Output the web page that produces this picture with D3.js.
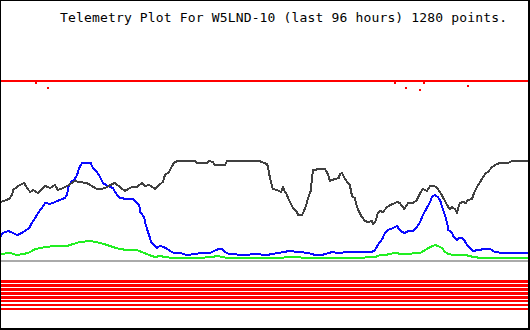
<!DOCTYPE html>
<html>
<head>
<meta charset="utf-8">
<script src="https://cdn.jsdelivr.net/npm/d3@7/dist/d3.min.js"></script>
<style>
  html, body { margin: 0; padding: 0; background: #fff; }
  svg { display: block; }
</style>
</head>
<body>
<svg id="chart" width="530" height="330"></svg>
<script>
// ---- data: [hour, value] pairs over the last 96 hours ----
const title = "Telemetry Plot For W5LND-10 (last 96 hours) 1280 points.";
const hoursDomain = [0, 96];
const valueDomain = [0, 18];

const redSeries = [[0, 18], [96, 18]];
const redDips = [[6.5, 17.8], [8.7, 17.3], [71.8, 17.8], [73.8, 17.3], [76.4, 17.1], [77.1, 17.8], [85.1, 17.5]];

const blackSeries = [
  [0,5.9],[1.3,6.1],[1.8,6.3],[2.2,6.6],[2.4,7.1],[3.1,7.4],[3.6,7.6],[4.4,7.8],[4.9,7.3],[5.5,6.9],
  [6.0,7.1],[6.9,6.8],[7.6,7.2],[8.2,7.5],[9.1,7.3],[10.0,7.6],[10.5,7.1],[11.5,7.3],[12.2,7.5],[13.1,7.8],
  [13.6,8.0],[14.5,7.9],[15.8,7.8],[16.7,7.5],[17.6,7.2],[18.5,7.2],[19.5,7.4],[20.4,7.7],[20.9,7.8],[21.8,7.4],
  [22.7,7.0],[23.3,7.2],[24.0,7.4],[24.9,7.4],[25.8,7.8],[26.4,7.5],[27.1,7.6],[28.0,7.3],[28.2,7.2],[28.9,7.6],
  [29.6,7.9],[30.0,8.6],[30.7,8.9],[31.1,9.3],[31.6,9.8],[32.2,10.0],[35.5,10.0],[35.8,9.8],[37.6,9.8],[38.0,10.0],
  [38.7,9.9],[39.1,9.6],[40.0,9.6],[40.9,9.6],[41.3,10.0],[47.1,10.0],[48.0,9.8],[48.5,9.7],[48.7,9.5],[48.9,8.8],
  [49.3,7.8],[49.6,7.2],[50.4,7.1],[50.7,7.0],[51.1,6.9],[51.5,7.4],[51.6,7.1],[52.0,6.8],[52.4,6.3],[52.7,5.9],
  [53.3,5.3],[53.6,5.1],[54.0,4.9],[54.2,4.6],[54.9,4.6],[55.1,4.8],[55.5,5.3],[55.8,5.8],[56.0,6.3],[56.5,7.0],
  [56.7,8.2],[56.9,9.1],[57.3,9.1],[57.8,9.2],[59.1,9.2],[59.6,8.7],[60.0,8.0],[60.9,8.2],[61.6,8.3],[61.8,8.7],
  [62.2,8.8],[62.7,8.2],[63.3,7.8],[63.6,7.6],[64.0,6.5],[64.5,6.3],[64.9,5.4],[65.3,4.9],[65.8,4.4],[66.4,4.0],
  [66.9,3.9],[67.6,4.0],[67.8,3.7],[68.2,3.9],[68.5,4.4],[68.7,4.8],[69.1,5.0],[69.6,4.9],[70.4,5.4],[70.9,5.6],
  [71.5,5.7],[72.2,5.9],[72.7,5.8],[73.5,5.2],[74.2,5.8],[75.1,5.8],[75.8,6.1],[76.4,6.8],[76.9,7.2],[77.6,7.0],
  [78.2,7.5],[78.9,7.5],[79.5,7.3],[80.0,6.9],[80.5,6.4],[80.9,6.0],[81.5,5.4],[81.8,5.2],[82.2,5.4],[82.7,5.2],
  [83.1,4.8],[83.3,5.3],[83.6,5.8],[84.2,5.9],[84.7,5.8],[85.1,6.1],[85.8,6.2],[86.2,6.8],[86.7,7.4],[87.3,7.9],
  [87.6,8.2],[88.2,8.7],[88.7,8.9],[89.5,9.4],[90.0,9.6],[90.9,9.8],[92.4,9.8],[93.1,10.0],[96.0,10.0]
];

const blueSeries = [
  [0,2.4],[0.5,2.8],[1.5,3.0],[2.4,2.8],[3.1,2.6],[3.6,2.7],[4.5,3.0],[5.3,3.3],[5.8,3.8],[6.4,4.3],
  [6.9,4.8],[7.6,5.3],[8.2,5.8],[9.1,5.7],[10.0,5.9],[10.9,6.1],[11.8,6.3],[12.2,6.6],[12.4,7.4],[12.9,7.9],
  [13.5,8.1],[14.0,8.6],[14.4,9.3],[14.9,9.8],[15.8,9.8],[16.5,9.8],[16.9,9.3],[17.6,8.9],[18.2,8.4],[18.7,7.8],
  [19.6,7.5],[20.5,7.3],[21.3,6.6],[21.8,6.3],[23.1,6.2],[24.2,6.2],[24.5,6.0],[25.3,5.6],[25.5,4.9],[26.2,4.4],
  [26.5,3.6],[27.1,2.6],[27.5,1.9],[28.0,1.6],[28.5,1.3],[29.1,1.5],[29.8,1.4],[30.4,1.2],[30.9,1.0],[31.6,0.8],
  [32.7,0.8],[34.0,0.6],[35.5,0.7],[36.4,0.8],[38.2,0.8],[38.9,1.0],[39.8,1.2],[40.4,1.2],[40.9,0.9],[41.6,0.7],
  [44.5,0.6],[46.4,0.7],[48.5,0.6],[50.5,0.8],[51.8,0.9],[52.4,1.0],[54.5,0.9],[56.0,0.8],[57.3,0.6],[58.5,0.6],
  [60.4,0.9],[61.5,0.8],[63.1,0.9],[65.1,0.9],[66.4,0.9],[67.6,0.9],[68.2,1.1],[68.7,1.6],[69.5,2.2],[70.0,2.8],
  [70.5,3.1],[71.5,3.3],[72.2,3.5],[72.4,3.3],[73.1,2.9],[73.6,2.8],[74.2,3.0],[75.1,3.0],[75.8,3.4],[76.4,3.9],
  [76.9,4.6],[77.6,5.3],[78.2,5.9],[78.5,6.4],[79.1,6.6],[79.6,6.4],[80.0,6.1],[80.4,5.4],[80.9,4.6],[81.3,3.8],
  [81.5,3.1],[82.2,2.8],[82.5,2.4],[83.1,2.1],[83.5,2.3],[84.0,2.3],[84.4,2.1],[84.9,1.6],[85.5,1.3],[86.0,1.0],
  [86.9,1.1],[88.2,1.2],[89.1,1.2],[90.0,0.9],[91.3,0.8],[93.1,0.8],[96.0,0.8]
];

const greenSeries = [
  [0,0.7],[1.8,0.8],[3.1,0.6],[4.2,0.7],[5.1,0.8],[5.8,1.0],[6.4,1.2],[7.3,1.3],[8.5,1.4],[9.6,1.5],
  [10.9,1.5],[12.2,1.5],[13.3,1.7],[14.5,1.9],[16.4,2.0],[17.3,1.9],[18.2,1.8],[19.5,1.6],[20.5,1.4],[21.8,1.2],
  [23.1,1.1],[24.9,1.1],[25.8,0.9],[26.7,0.7],[27.6,0.5],[28.2,0.4],[29.1,0.5],[30.0,0.4],[31.3,0.3],[36.2,0.3],
  [38.5,0.4],[39.5,0.5],[40.4,0.4],[41.3,0.3],[51.5,0.3],[51.8,0.4],[53.6,0.4],[55.8,0.3],[64.5,0.3],[68.2,0.4],
  [69.1,0.6],[70.0,0.6],[70.9,0.7],[71.8,0.8],[73.1,0.7],[74.2,0.7],[75.5,0.8],[76.4,0.8],[77.3,1.1],[78.2,1.4],
  [79.1,1.6],[79.6,1.5],[80.4,1.3],[80.9,0.9],[81.5,0.7],[82.4,0.6],[83.3,0.6],[84.5,0.6],[85.5,0.5],[86.0,0.4],
  [87.6,0.3],[96.0,0.3]
];

const baseline = [[0, 0], [96, 0]];
const bitLanes = [1, 2, 3, 4, 5, 6, 7, 8];
const bitValues = [1, 1, 1, 1, 1, 1, 1, 1];

// ---- drawing ----
const W = 530, H = 330;
const svg = d3.select("#chart");

const x = d3.scaleLinear().domain(hoursDomain).range([0, 528]);
const y = d3.scaleLinear().domain(valueDomain).range([261, 81]);
const bitY = d3.scalePoint().domain(bitLanes).range([281.4, 308.9]);

const line = d3.line().x(d => x(d[0])).y(d => y(d[1]));

svg.append("rect").attr("x", 0).attr("y", 0).attr("width", W).attr("height", H).attr("fill", "#fff");

const plot = svg.append("g").attr("shape-rendering", "crispEdges");

// baseline
plot.append("path").datum(baseline).attr("d", line)
  .attr("fill", "none").attr("stroke", "#aaaaaa").attr("stroke-width", 2);

// bit lanes
plot.selectAll("path.bit").data(bitLanes).enter().append("path")
  .attr("class", "bit")
  .attr("d", (b, i) => d3.line().x(d => x(d)).y(() => bitY(b))(bitValues[i] ? hoursDomain : []))
  .attr("fill", "none").attr("stroke", "#ff0000").attr("stroke-width", 2.8);

const seriesDefs = [
  { data: greenSeries, color: "#22ee22" },
  { data: blueSeries, color: "#0a0aff" },
  { data: blackSeries, color: "#404040" },
  { data: redSeries, color: "#ff0000" }
];
seriesDefs.forEach(s => {
  plot.append("path").datum(s.data).attr("d", line)
    .attr("fill", "none").attr("stroke", s.color)
    .attr("stroke-width", 2).attr("stroke-linejoin", "round");
});

plot.selectAll("rect.dip").data(redDips).enter().append("rect")
  .attr("class", "dip")
  .attr("x", d => x(d[0]) - 1).attr("y", d => y(d[1]) - 1)
  .attr("width", 2).attr("height", 2).attr("fill", "#ff0000");

// title
svg.append("text").attr("x", 60).attr("y", 22)
  .attr("font-family", "DejaVu Sans Mono, monospace").attr("font-size", 13)
  .attr("textLength", 447).attr("lengthAdjust", "spacing")
  .attr("fill", "#000").text(title);

// border
svg.append("rect").attr("x", 0.5).attr("y", 0.5).attr("width", 528).attr("height", 328)
  .attr("fill", "none").attr("stroke", "#000").attr("stroke-width", 1);
svg.append("line").attr("x1", 529.5).attr("y1", 0).attr("x2", 529.5).attr("y2", 330).attr("stroke", "#000");
svg.append("line").attr("x1", 0).attr("y1", 329.5).attr("x2", 530).attr("y2", 329.5).attr("stroke", "#000");
</script>
</body>
</html>
